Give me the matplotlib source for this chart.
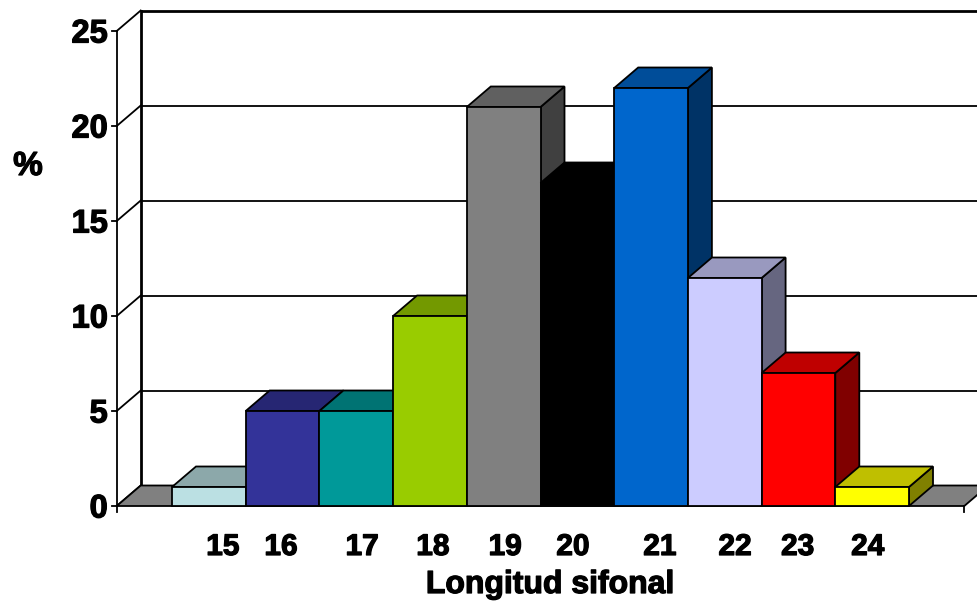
import matplotlib
matplotlib.use('Agg')
import matplotlib.pyplot as plt
from matplotlib.patches import Polygon
from matplotlib.colors import to_rgb
import matplotlib.patheffects as pe

# ---------------- data ----------------
categories = ['15', '16', '17', '18', '19', '20', '21', '22', '23', '24']
values = [1, 5, 5, 10, 21, 17, 22, 12, 7, 1]
colors = ['#BBE0E3', '#333399', '#009999', '#99CC00', '#808080',
          '#000000', '#0066CC', '#CCCCFF', '#FF0000', '#FFFF00']
y_ticks = [0, 5, 10, 15, 20, 25]
x_title = 'Longitud sifonal'
y_title = '%'
# label offsets (layout) relative to bar centres, as in the original
label_shift = [0.19, -0.02, 0.08, 0.04, 0.02, -0.06, 0.12, 0.14, -0.01, -0.06]

# ---------------- layout ----------------
W, H = 977, 602
fig = plt.figure(figsize=(W / 100, H / 100), dpi=100)
ax = fig.add_axes([0, 0, 1, 1])
px_bar0, bar_px = 172.0, 73.7      # pixel of first bar's left edge, bar width
py0, unit_py = 506.0, 19.0          # pixel of value 0 (front), pixels per unit
ax.set_xlim((0 - px_bar0) / bar_px - 0.5, (W - px_bar0) / bar_px - 0.5)
ax.set_ylim((py0 - H) / unit_py, py0 / unit_py)
ax.axis('off')

DX = 24.0 / bar_px
DY = 20.5 / unit_py
n = len(values)
floor_left = -1.25
floor_right = n - 0.5 + 0.75
x_far = ax.get_xlim()[1] + 1
ymax = y_ticks[-1]
lw = 1.3
FONT = 'Liberation Sans'
heavy = [pe.withStroke(linewidth=0.9, foreground='black')]

# back-wall gridlines and left-wall diagonals
for v in y_ticks:
    ax.plot([floor_left + DX, x_far], [v + DY, v + DY], color='black',
            lw=2.0 if v == ymax else lw, zorder=1, solid_capstyle='butt')
    ax.plot([floor_left, floor_left + DX], [v, v + DY], color='black', lw=lw, zorder=1)
    ax.plot([floor_left - 5 / bar_px, floor_left], [v, v], color='black', lw=lw, zorder=1)
    ax.text(floor_left - 9 / bar_px, v - 11.5 / unit_py, str(v), ha='right', va='baseline',
            fontsize=23.5, fontweight='bold', family=FONT, path_effects=heavy)

# back-wall left edge and front vertical axis
ax.plot([floor_left + DX, floor_left + DX], [DY, ymax + DY], color='black', lw=2.0, zorder=1)
ax.plot([floor_left, floor_left], [0, ymax], color='black', lw=lw, zorder=1)

# floor
ax.add_patch(Polygon([(floor_left, 0), (floor_right, 0), (floor_right + DX, DY),
                      (floor_left + DX, DY)], closed=True, facecolor='#808080',
                     edgecolor='black', lw=lw, zorder=2))
# bottom end ticks
for xx in (floor_left, floor_right):
    ax.plot([xx, xx], [0, -6 / unit_py], color='black', lw=lw, zorder=2)


def shade(c, f):
    r, g, b = to_rgb(c)
    return (r * f, g * f, b * f)


# bars (left to right for correct overlap)
z = 3
for i, (v, c) in enumerate(zip(values, colors)):
    x0, x1 = i - 0.5, i + 0.5
    side = Polygon([(x1, 0), (x1 + DX, DY), (x1 + DX, v + DY), (x1, v)], closed=True,
                   facecolor=shade(c, 0.5), edgecolor='black', lw=lw, zorder=z)
    top = Polygon([(x0, v), (x1, v), (x1 + DX, v + DY), (x0 + DX, v + DY)], closed=True,
                  facecolor=shade(c, 0.75), edgecolor='black', lw=lw, zorder=z + 1)
    front = Polygon([(x0, 0), (x1, 0), (x1, v), (x0, v)], closed=True,
                    facecolor=c, edgecolor='black', lw=lw, zorder=z + 2)
    ax.add_patch(side)
    ax.add_patch(top)
    ax.add_patch(front)
    z += 3

# category labels
for i, (lab, s) in enumerate(zip(categories, label_shift)):
    ax.text(i + s, (py0 - 555) / unit_py, lab, ha='center', va='baseline',
            fontsize=21.5, fontweight='bold', family=FONT, path_effects=heavy)

# titles
fig.text(550 / W, 1 - 593 / H, x_title, ha='center', va='baseline',
         fontsize=23, fontweight='bold', family=FONT, path_effects=heavy)
fig.text(28 / W, 1 - 175 / H, y_title, ha='center', va='baseline',
         fontsize=24, fontweight='bold', family=FONT, path_effects=heavy)

fig.savefig('out.png', dpi=100)
